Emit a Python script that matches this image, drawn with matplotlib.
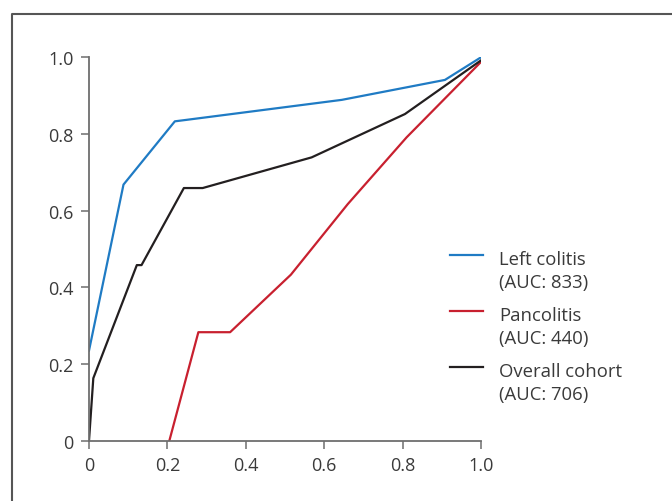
import matplotlib
matplotlib.use("Agg")
import matplotlib.pyplot as plt
from matplotlib.lines import Line2D

plt.rcParams['font.family'] = ['Open Sans', 'DejaVu Sans']

# ROC curves (1 - specificity, sensitivity)
left_x = [0.0, 0.088, 0.219, 0.25, 0.645, 0.908, 1.0]
left_y = [0.235, 0.668, 0.833, 0.837, 0.889, 0.941, 1.0]

pan_x = [0.205, 0.279, 0.36, 0.515, 0.66, 0.81, 1.0]
pan_y = [0.0, 0.283, 0.283, 0.433, 0.617, 0.791, 0.988]

all_x = [0.0, 0.011, 0.122, 0.134, 0.242, 0.29, 0.568, 0.806, 1.0]
all_y = [0.0, 0.163, 0.458, 0.458, 0.659, 0.659, 0.739, 0.852, 0.992]

labels = ['Left colitis\n(AUC: 833)', 'Pancolitis\n(AUC: 440)', 'Overall cohort\n(AUC: 706)']
colors = ['#1f7bc4', '#c8202f', '#231f20']
ticks = [0, 0.2, 0.4, 0.6, 0.8, 1.0]
tick_labels = ['0', '0.2', '0.4', '0.6', '0.8', '1.0']

fig = plt.figure(figsize=(6.72, 5.02), dpi=100)
ax = fig.add_axes([89 / 672, 1 - 441.7 / 502, 392 / 672, 383.4 / 502])

ax.plot(left_x, left_y, color=colors[0], lw=1.6)
ax.plot(pan_x, pan_y, color=colors[1], lw=1.6)
ax.plot(all_x, all_y, color=colors[2], lw=1.6)

ax.set_xlim(0, 1)
ax.set_ylim(0, 1)
ax.set_xticks(ticks)
ax.set_xticklabels(tick_labels)
ax.set_yticks(ticks)
ax.set_yticklabels(tick_labels)
for s in ['top', 'right']:
    ax.spines[s].set_visible(False)
for s in ['left', 'bottom']:
    ax.spines[s].set_color('#6e6e6e')
    ax.spines[s].set_linewidth(1.3)
ax.tick_params(direction='out', length=6, width=1.1, color='#6e6e6e',
               labelsize=13, labelcolor='#3a3a3a', pad=5)

# legend drawn by hand (key aligned with first text line)
for i, (lab, c) in enumerate(zip(labels, colors)):
    yy = 1 - (256 + 56 * i) / 502
    fig.add_artist(Line2D([450 / 672, 483 / 672], [yy, yy], color=c, lw=1.6,
                          transform=fig.transFigure))
    fig.text(499 / 672, yy + 5 / 502, lab, fontsize=13.3, color='#3a3a3a',
             va='top', ha='left', linespacing=1.38)

# frame around figure (left and top)
fy = 1 - 15 / 502
fig.add_artist(Line2D([12 / 672, 12 / 672, 1.0], [0, fy, fy], color='#555555',
                      lw=1.5, transform=fig.transFigure))

fig.savefig('out.png', dpi=100)
